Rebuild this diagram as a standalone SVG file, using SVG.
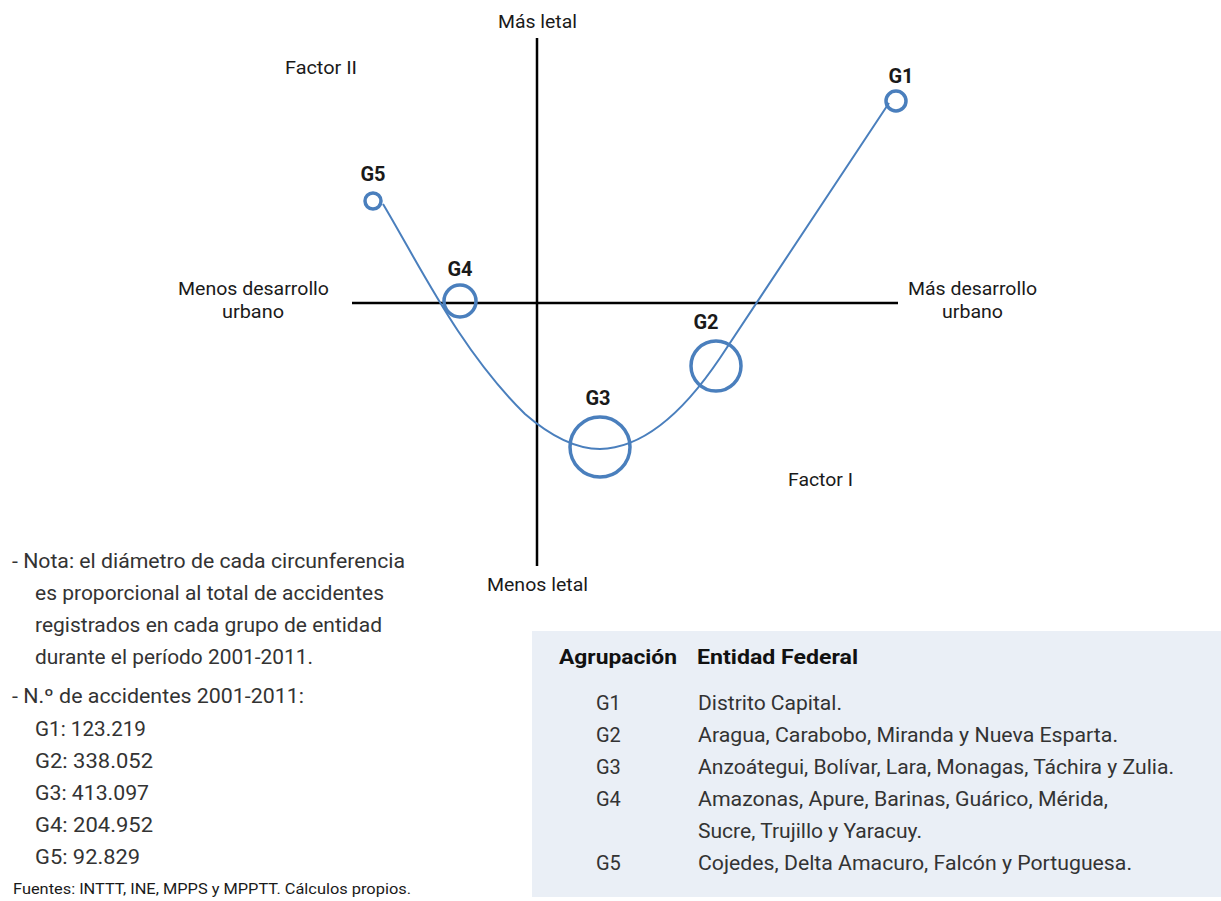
<svg xmlns="http://www.w3.org/2000/svg" width="1221" height="901" viewBox="0 0 1221 901">
<style>
text{font-family:Roboto,"Liberation Sans",sans-serif;fill:#1a1a1a}
.ax{font-size:18px}
.g{font-size:20px;font-weight:bold}
.n{font-size:20px;fill:#333}
.t{font-size:20px;fill:#333}
.th{font-size:20px;font-weight:bold;fill:#111}
.c{fill:none;stroke:#4a7fbd;stroke-width:3.5}
.axis{stroke:#000;stroke-width:2.5}
</style>
<rect width="1221" height="901" fill="#fff"/>
<g id="axes">
<line class="axis" x1="537" y1="38" x2="537" y2="566"/>
<line class="axis" x1="352" y1="303" x2="898" y2="303"/>
</g>
<g id="axis-labels">
<text class="ax" x="498" y="28" textLength="79" lengthAdjust="spacingAndGlyphs">Más letal</text>
<text class="ax" x="487" y="591" textLength="101" lengthAdjust="spacingAndGlyphs">Menos letal</text>
<text class="ax" x="285" y="74" textLength="72" lengthAdjust="spacingAndGlyphs">Factor II</text>
<text class="ax" x="788" y="486" textLength="65" lengthAdjust="spacingAndGlyphs">Factor I</text>
<text class="ax" x="178" y="295" textLength="151" lengthAdjust="spacingAndGlyphs">Menos desarrollo</text>
<text class="ax" x="222" y="318" textLength="62" lengthAdjust="spacingAndGlyphs">urbano</text>
<text class="ax" x="908" y="295" textLength="129" lengthAdjust="spacingAndGlyphs">Más desarrollo</text>
<text class="ax" x="942" y="318" textLength="61" lengthAdjust="spacingAndGlyphs">urbano</text>
</g>
<g id="connectors">
<path d="M 383 204 C 420 266, 460 350, 525 414 C 555 440, 580 449, 600 449 C 645 448, 685 410, 720 358 L 889 103" fill="none" stroke="#4a7fbd" stroke-width="2"/>
</g>
<g id="G1"><circle class="c" cx="896" cy="101" r="10"/><text class="g" x="901" y="83" text-anchor="middle">G1</text></g>
<g id="G2"><circle class="c" cx="716" cy="366" r="25"/><text class="g" x="706" y="329" text-anchor="middle">G2</text></g>
<g id="G3"><circle class="c" cx="600" cy="447" r="30"/><text class="g" x="598" y="405" text-anchor="middle">G3</text></g>
<g id="G4"><circle class="c" cx="460" cy="301" r="16"/><text class="g" x="460" y="276" text-anchor="middle">G4</text></g>
<g id="G5"><circle class="c" cx="373" cy="201" r="8"/><text class="g" x="373" y="181" text-anchor="middle">G5</text></g>
<g id="notes">
<text class="n" x="12" y="568" textLength="393" lengthAdjust="spacingAndGlyphs">- Nota: el diámetro de cada circunferencia</text>
<text class="n" x="35" y="600" textLength="349" lengthAdjust="spacingAndGlyphs">es proporcional al total de accidentes</text>
<text class="n" x="35" y="632" textLength="347" lengthAdjust="spacingAndGlyphs">registrados en cada grupo de entidad</text>
<text class="n" x="35" y="664" textLength="278" lengthAdjust="spacingAndGlyphs">durante el período 2001-2011.</text>
<text class="n" x="12" y="703" textLength="292" lengthAdjust="spacingAndGlyphs">- N.º de accidentes 2001-2011:</text>
<text class="n" x="35" y="736" textLength="111" lengthAdjust="spacingAndGlyphs">G1: 123.219</text>
<text class="n" x="35" y="768" textLength="118" lengthAdjust="spacingAndGlyphs">G2: 338.052</text>
<text class="n" x="35" y="800" textLength="114" lengthAdjust="spacingAndGlyphs">G3: 413.097</text>
<text class="n" x="35" y="832" textLength="118" lengthAdjust="spacingAndGlyphs">G4: 204.952</text>
<text class="n" x="35" y="864" textLength="105" lengthAdjust="spacingAndGlyphs">G5: 92.829</text>
<text x="13" y="894" style="font-size:15px" textLength="398" lengthAdjust="spacingAndGlyphs">Fuentes: INTTT, INE, MPPS y MPPTT. Cálculos propios.</text>
</g>
<g id="table">
<rect x="532" y="631" width="689" height="266" fill="#eaeff6"/>
<text class="th" x="559" y="664" textLength="118" lengthAdjust="spacingAndGlyphs">Agrupación</text>
<text class="th" x="697" y="664" textLength="161" lengthAdjust="spacingAndGlyphs">Entidad Federal</text>
<text class="t" x="596" y="710">G1</text><text class="t" x="698" y="710" textLength="144" lengthAdjust="spacingAndGlyphs">Distrito Capital.</text>
<text class="t" x="596" y="742">G2</text><text class="t" x="698" y="742" textLength="420" lengthAdjust="spacingAndGlyphs">Aragua, Carabobo, Miranda y Nueva Esparta.</text>
<text class="t" x="596" y="774">G3</text><text class="t" x="698" y="774" textLength="476" lengthAdjust="spacingAndGlyphs">Anzoátegui, Bolívar, Lara, Monagas, Táchira y Zulia.</text>
<text class="t" x="596" y="806">G4</text><text class="t" x="698" y="806" textLength="410" lengthAdjust="spacingAndGlyphs">Amazonas, Apure, Barinas, Guárico, Mérida,</text>
<text class="t" x="698" y="838" textLength="224" lengthAdjust="spacingAndGlyphs">Sucre, Trujillo y Yaracuy.</text>
<text class="t" x="596" y="870">G5</text><text class="t" x="698" y="870" textLength="434" lengthAdjust="spacingAndGlyphs">Cojedes, Delta Amacuro, Falcón y Portuguesa.</text>
</g>
</svg>
